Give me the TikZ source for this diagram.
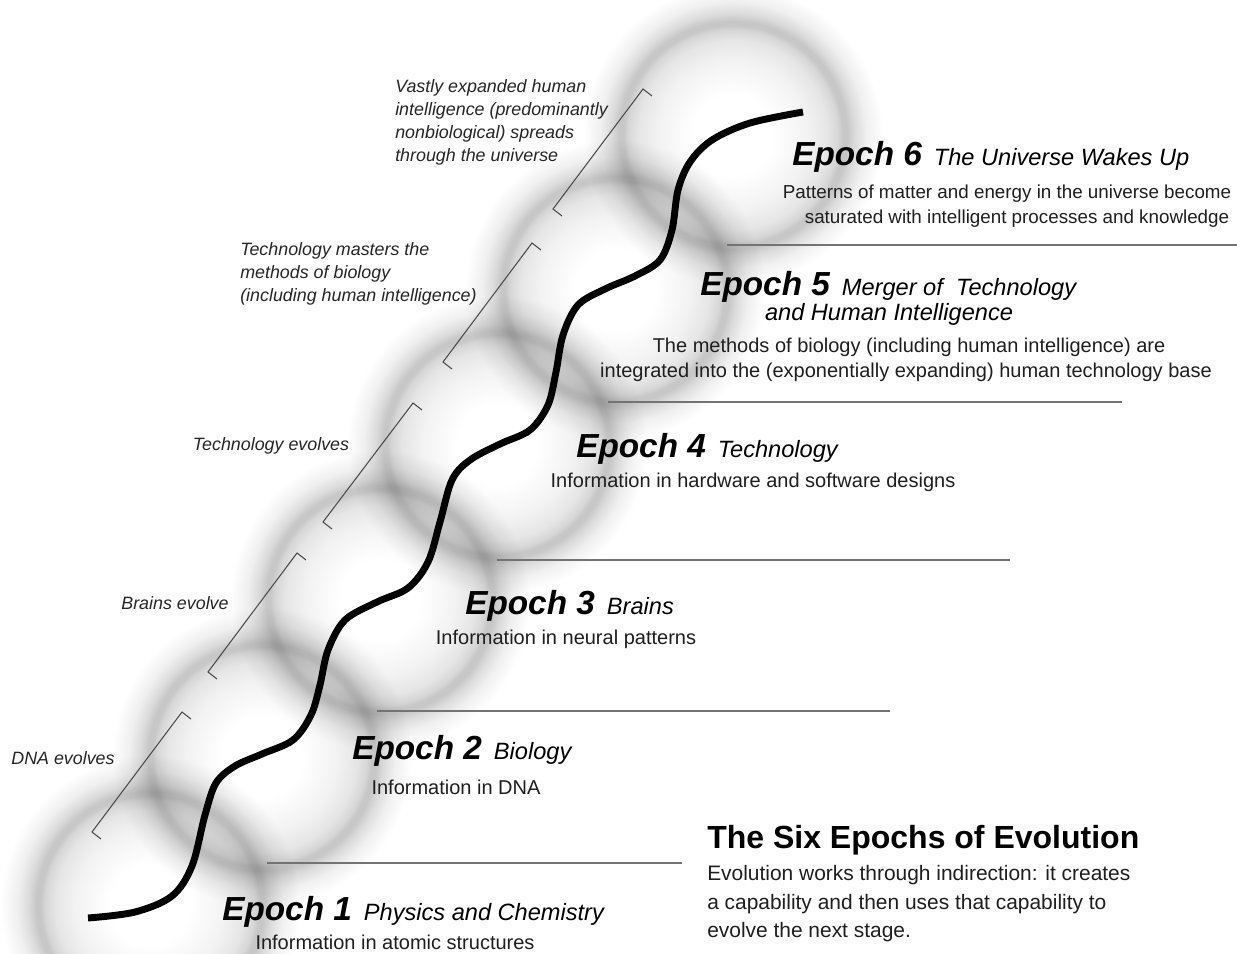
\documentclass[tikz,border=0pt]{standalone}
\usepackage{fontspec}
\setmainfont{Liberation Sans}
\usetikzlibrary{calc}
\pgfdeclareradialshading{sphereshade}{\pgfpoint{0bp}{0bp}}{%
  color(0bp)=(white); color(6.7bp)=(white); color(12.5bp)=(black!5);
  color(15.8bp)=(black!10); color(17.5bp)=(black!16); color(18.3bp)=(black!22);
  color(19bp)=(black!22); color(20.3bp)=(black!14); color(22.2bp)=(black!6);
  color(25bp)=(white); color(50bp)=(white)}
\newcommand{\epnum}[1]{{\bfseries\itshape\fontsize{25}{30}\selectfont Epoch #1}}
\newcommand{\epsub}[1]{{\itshape\fontsize{17.7}{22}\selectfont #1}}
\tikzset{
  sphere/.style={shading=sphereshade},
  bracket/.style={draw=black!70, line width=0.8pt},
  sepline/.style={draw=black!55, line width=1pt},
  sidelabel/.style={font=\itshape\fontsize{13.4}{17.25}\selectfont, text=black!85, inner sep=0pt, align=left},
  head/.style={inner sep=0pt, anchor=base west, text=black},
  desc/.style={font=\fontsize{15}{18}\selectfont, text=black!88, inner sep=0pt, anchor=base},
  evo/.style={line width=5.2pt, draw=black},
}
\begin{document}
\begin{tikzpicture}[x=0.75pt, y=-0.75pt]
\useasboundingbox (0,0) rectangle (1237,953);
\fill[white] (0,0) rectangle (1237,953);

% spheres
\coordinate (s1) at (150,905);
\coordinate (s2) at (262,757);
\coordinate (s3) at (380,600);
\coordinate (s4) at (497,445);
\coordinate (s5) at (615,290);
\coordinate (s6) at (733,135);
\begin{scope}[blend mode=multiply]
  \clip (0,0) rectangle (1237,953);
  \foreach \s in {s1,s2,s3,s4,s5,s6}
    \shade[sphere] (\s) circle[radius=150];
\end{scope}

% separator lines
\coordinate (l1a) at (267,863); \coordinate (l1b) at (682,863);
\coordinate (l2a) at (377,711); \coordinate (l2b) at (890,711);
\coordinate (l3a) at (497,560); \coordinate (l3b) at (1010,560);
\coordinate (l4a) at (608,402); \coordinate (l4b) at (1122,402);
\coordinate (l5a) at (727,245); \coordinate (l5b) at (1237,245);
\draw[sepline] (l1a) -- (l1b);
\draw[sepline] (l2a) -- (l2b);
\draw[sepline] (l3a) -- (l3b);
\draw[sepline] (l4a) -- (l4b);
\draw[sepline] (l5a) -- (l5b);

% evolution curve
\draw[evo] plot[smooth, tension=0.55] coordinates {
  (88,918) (135,912) (172,896) (192,866) (205,815) (216,783) (235,766)
  (262,754) (293,740) (311,715) (320,685) (328,650) (345,620) (377,602)
  (408,588) (428,562) (440,522) (452,480) (470,460) (500,444) (530,430)
  (548,405) (556,372) (563,335) (578,305) (605,289) (635,276) (660,260)
  (672,230) (678,190) (690,162) (712,140) (750,123) (803,112)};

% brackets
\coordinate (b1) at (92,832);  \coordinate (t1) at (182,712);
\coordinate (b2) at (208,672); \coordinate (t2) at (297,553);
\coordinate (b3) at (323,522); \coordinate (t3) at (413,403);
\coordinate (b4) at (443,362); \coordinate (t4) at (532,243);
\coordinate (b5) at (553,209); \coordinate (t5) at (643,89);
\foreach \i in {1,...,5}
  \draw[bracket] (b\i) ++(9,7) -- (b\i) -- (t\i) -- ++(9,7);

% side labels
\node[sidelabel] (dna) at (63,758) {DNA evolves};
\node[sidelabel] (brains) at (175,603) {Brains evolve};
\node[sidelabel] (tech) at (271,446) {Technology evolves};
\node[sidelabel, anchor=west] (masters) at (240,274) {Technology masters the\\methods of biology\\(including human intelligence)};
\node[sidelabel, anchor=west] (vastly) at (395,122.5) {Vastly expanded human\\intelligence (predominantly\\nonbiological) spreads\\through the universe};

% epoch 6
\node[head] (e6) at (792,165) {\epnum{6}\hspace{9pt}\epsub{The Universe Wakes Up}};
\node[desc, font=\fontsize{14.1}{17}\selectfont] (e6a) at (1007,198) {Patterns of matter and energy in the universe become};
\node[desc, font=\fontsize{14.1}{17}\selectfont] (e6b) at (1017,223) {saturated with intelligent processes and knowledge};
% epoch 5
\node[head] (e5) at (700,295) {\epnum{5}\hspace{9pt}\epsub{Merger of\hspace{10pt}Technology}};
\node[inner sep=0pt, anchor=base] (e5s) at (889,320) {\epsub{and Human Intelligence}};
\node[desc] (e5a) at (909,352) {The methods of biology (including human intelligence) are};
\node[desc] (e5b) at (906,377) {integrated into the (exponentially expanding) human technology base};
% epoch 4
\node[head] (e4) at (576,457) {\epnum{4}\hspace{9pt}\epsub{Technology}};
\node[desc] (e4a) at (753,487) {Information in hardware and software designs};
% epoch 3
\node[head] (e3) at (465,614) {\epnum{3}\hspace{9pt}\epsub{Brains}};
\node[desc] (e3a) at (566,644) {Information in neural patterns};
% epoch 2
\node[head] (e2) at (352,759) {\epnum{2}\hspace{9pt}\epsub{Biology}};
\node[desc] (e2a) at (456,794) {Information in DNA};
% epoch 1
\node[head] (e1) at (222,920) {\epnum{1}\hspace{9pt}\epsub{Physics and Chemistry}};
\node[desc] (e1a) at (395,949) {Information in atomic structures};

% title block
\node[inner sep=0pt, anchor=base west, font=\bfseries\fontsize{24}{28}\selectfont] (title) at (707,848) {The Six Epochs of Evolution};
\node[inner sep=0pt, anchor=base west, font=\fontsize{15.7}{21.4}\selectfont, text=black!88] (tb1) at (707,880) {Evolution works through indirection: it creates};
\node[inner sep=0pt, anchor=base west, font=\fontsize{15.7}{21.4}\selectfont, text=black!88] (tb2) at (707,909) {a capability and then uses that capability to};
\node[inner sep=0pt, anchor=base west, font=\fontsize{15.7}{21.4}\selectfont, text=black!88] (tb3) at (707,937) {evolve the next stage.};
\end{tikzpicture}
\end{document}
